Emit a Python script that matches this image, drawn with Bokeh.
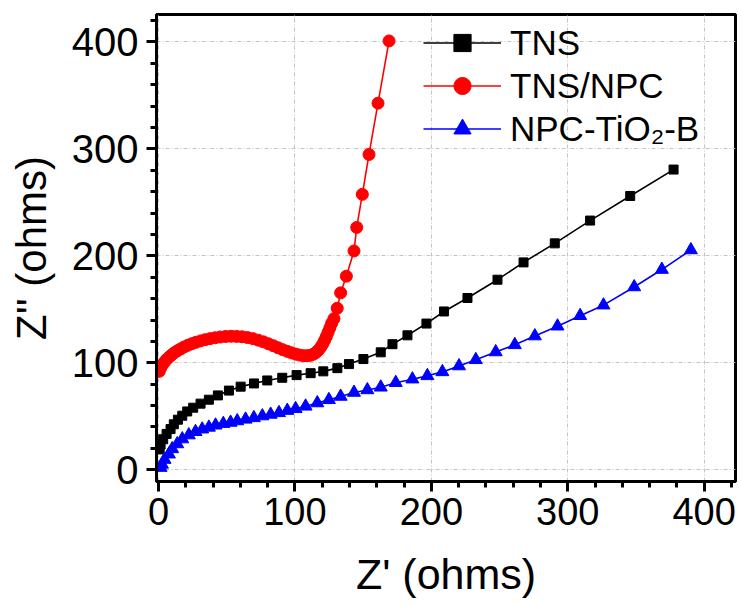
from bokeh.plotting import figure
from bokeh.models import Range1d, FixedTicker, Legend, LegendItem
from bokeh.embed import file_html
from bokeh.resources import INLINE

# ---- data ----
tns_x = [0.8, 1.5, 3.4, 5.9, 8.8, 11.2, 14.2, 17.4, 21.0, 25.4, 30.8, 36.9, 43.5, 51.6,
         60.2, 70.0, 79.7, 90.7, 101.2, 111.5, 120.8, 131.1, 139.6, 150.2, 162.9, 171.5,
         182.5, 196.4, 209.3, 226.5, 248.5, 267.6, 290.5, 316.4, 345.8, 377.6]
tns_y = [19.0, 23.5, 28.5, 33.5, 38.0, 42.5, 46.8, 50.5, 54.5, 58.0, 61.8, 65.5, 69.5, 74.0,
         77.7, 80.7, 83.5, 86.0, 88.5, 90.3, 92.0, 95.0, 98.8, 103.5, 109.8, 117.4,
         125.7, 136.7, 148.0, 160.6, 177.7, 193.9, 211.7, 233.0, 256.0, 280.7]

npc_x = [0.5, 1.5, 2.8, 4.2, 5.8, 7.6, 9.5, 11.5, 13.8, 16.2, 18.8, 21.5, 24.4, 27.5, 30.8,
         34.2, 37.8, 41.5, 45.3, 49.2, 53.2, 57.2, 61.2, 65.2, 69.1, 73.0, 76.8, 80.5, 84.1,
         87.6, 91.0, 94.3, 97.5, 100.6, 103.5, 106.3, 108.9, 111.3, 113.5, 115.4, 117.2,
         118.8, 120.3, 121.7, 123.0, 124.3, 125.6, 126.9, 128.6, 131.0, 133.5, 137.7, 143.3,
         145.3, 149.4, 154.3, 160.9, 169.0]
npc_y = [92.0, 95.0, 98.0, 100.5, 103.0, 105.2, 107.3, 109.3, 111.2, 113.0, 114.8, 116.4,
         117.9, 119.2, 120.5, 121.6, 122.6, 123.4, 124.1, 124.6, 124.8, 124.7, 124.3, 123.6,
         122.6, 121.2, 119.6, 117.8, 116.0, 114.1, 112.3, 110.7, 109.3, 108.1, 107.2, 106.7,
         106.6, 107.0, 108.0, 109.6, 111.8, 114.4, 117.4, 120.8, 124.5, 128.5, 132.7, 137.0,
         141.3, 151.0, 165.4, 181.0, 204.6, 226.6, 257.5, 294.8, 342.8, 401.0]

tio2_x = [1.5, 2.5, 4.4, 7.6, 10.0, 13.7, 17.4, 22.2, 27.1, 32.0, 36.9, 41.8, 47.5, 52.8,
          57.7, 63.8, 69.9, 76.1, 82.2, 88.3, 94.4, 100.5, 107.8, 116.4, 124.9, 133.5,
          143.3, 153.1, 162.9, 173.9, 186.1, 197.1, 208.1, 220.3, 232.6, 247.2, 261.2,
          275.9, 292.5, 309.1, 326.2, 348.7, 369.0, 390.3]
tio2_y = [2.0, 5.0, 9.5, 14.5, 19.5, 24.1, 28.7, 32.4, 35.5, 37.9, 39.6, 41.6, 43.1, 44.2,
          45.6, 47.1, 48.5, 50.2, 51.7, 53.2, 55.3, 57.0, 59.3, 62.4, 65.4, 68.5,
          72.2, 74.6, 77.1, 81.4, 84.7, 87.8, 91.5, 97.0, 102.8, 110.1, 116.8,
          125.0, 134.2, 144.0, 153.9, 170.9, 187.2, 205.5]

labels = ["TNS", "TNS/NPC", "NPC-TiO\u2082-B"]
major_ticks = [0, 100, 200, 300, 400]
minor_ticks = [v for v in range(-20, 441, 20) if v % 100 != 0]

FONT = "Liberation Sans"

p = figure(width=740, height=600, output_backend="svg", toolbar_location=None,
           x_range=Range1d(-1.5, 423), y_range=Range1d(-11, 425.7),
           min_border_left=156, min_border_right=5, min_border_top=14, min_border_bottom=110)
p.background_fill_color = "white"
p.border_fill_color = "white"
p.outline_line_color = "black"
p.outline_line_width = 3

for ax in (p.xaxis[0], p.yaxis[0]):
    ax.ticker = FixedTicker(ticks=major_ticks, minor_ticks=minor_ticks)
    ax.axis_line_width = 3
    ax.axis_line_color = "black"
    ax.major_tick_line_width = 3
    ax.major_tick_out = 10
    ax.major_tick_in = 0
    ax.minor_tick_line_width = 3
    ax.minor_tick_out = 6
    ax.minor_tick_in = 0
    ax.major_label_text_font = FONT
    ax.major_label_text_color = "black"
    ax.axis_label_text_font = FONT
    ax.axis_label_text_font_style = "normal"
    ax.axis_label_text_color = "black"

p.xaxis.major_label_text_font_size = "38px"
p.yaxis.major_label_text_font_size = "40px"
p.xaxis.axis_label_text_font_size = "43px"
p.yaxis.axis_label_text_font_size = "42px"
p.xaxis.axis_label = "Z' (ohms)"
p.yaxis.axis_label = "Z'' (ohms)"
p.xaxis.major_label_standoff = 6
p.yaxis.major_label_standoff = 8
p.xaxis.axis_label_standoff = 22
p.yaxis.axis_label_standoff = 14

for g in (p.xgrid[0], p.ygrid[0]):
    g.ticker = FixedTicker(ticks=major_ticks)
    g.grid_line_color = "#c4c4c4"
    g.grid_line_width = 1
    g.grid_line_dash = "4 2 1 2"

l1 = p.line(tns_x, tns_y, line_color="black", line_width=1.6)
s1 = p.scatter(tns_x, tns_y, marker="square", size=9, fill_color="black", line_color="black")
l2 = p.line(npc_x, npc_y, line_color="red", line_width=1.6)
s2 = p.scatter(npc_x, npc_y, marker="circle", size=12, fill_color="red", line_color="red")
l3 = p.line(tio2_x, tio2_y, line_color="blue", line_width=1.6)
s3 = p.scatter(tio2_x, tio2_y, marker="triangle", size=13, fill_color="blue", line_color="blue")

legend = Legend(items=[LegendItem(label=labels[0], renderers=[l1, s1]),
                       LegendItem(label=labels[1], renderers=[l2, s2]),
                       LegendItem(label=labels[2], renderers=[l3, s3])],
                location=(267, 331))
legend.border_line_color = None
legend.background_fill_alpha = 0
legend.padding = 0
legend.margin = 0
legend.spacing = 0
legend.glyph_width = 78
legend.glyph_height = 43
legend.label_height = 43
legend.label_standoff = 9
legend.label_text_font = FONT
legend.label_text_font_size = "35px"
legend.label_text_color = "black"
p.add_layout(legend, "center")

open("out.html", "w").write(file_html(p, INLINE))
